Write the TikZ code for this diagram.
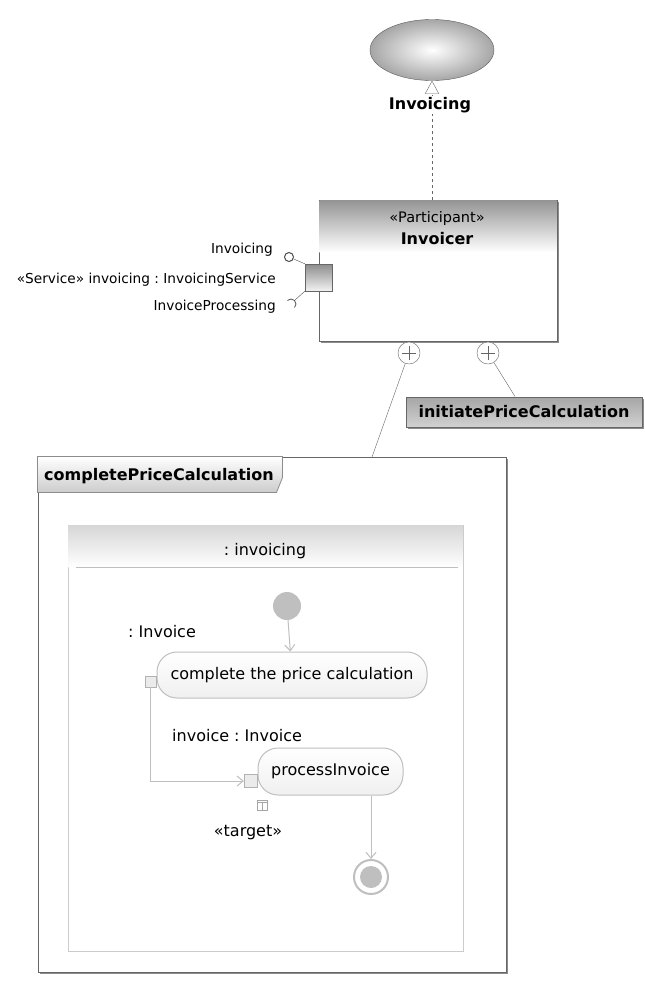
\documentclass[tikz,border=0pt]{standalone}
\usepackage{fontspec}
\setmainfont{DejaVu Sans}
\usepackage{tikz}
\usetikzlibrary{shapes.geometric,arrows.meta,shadows,positioning}

\tikzset{
  lbl/.style={font=\fontsize{13.7}{16}\selectfont, inner sep=0pt},
  ttl/.style={font=\fontsize{16}{19}\selectfont\bfseries, inner sep=0pt},
  act/.style={font=\fontsize{16}{19}\selectfont, inner sep=0pt},
  boxline/.style={draw=black!60, line width=1pt},
  boxshadow/.style={drop shadow={shadow xshift=2pt, shadow yshift=-2pt, fill=black!45, opacity=1}},
  header/.style={inner sep=0pt, anchor=north, top color=#1, bottom color=white},
  plusport/.style={circle, draw=black!60, fill=white, minimum size=22pt, inner sep=0pt,
    path picture={\draw[black!60] ([xshift=-7pt]path picture bounding box.center) -- ++(14pt,0pt);
      \draw[black!60] ([yshift=-7pt]path picture bounding box.center) -- ++(0pt,14pt);}},
  flow/.style={draw=black!25, line width=1pt, -{Straight Barb[length=6pt,width=10pt]}},
  pinbox/.style={draw=black!30, fill=black!8, inner sep=0pt},
  action/.style={draw=black!25, line width=1pt, rounded corners=20pt, top color=white,
    bottom color=black!6, inner sep=0pt, font=\fontsize{16}{19}\selectfont},
}

\begin{document}
\frenchspacing
\begin{tikzpicture}[x=1pt, y=-1pt]
  \useasboundingbox (0,0) rectangle (645,983);

  % capability and participant
  \node[ellipse, draw=black!65, inner color=white, outer color=black!35,
    minimum width=124pt, minimum height=61pt] (capab) at (432,50) {};
  \node[boxline, boxshadow, fill=white, minimum width=238pt, minimum height=141pt,
    inner sep=0pt] (invoicer) at (438,270.5) {};
  \node[header=black!42, minimum width=237pt, minimum height=52pt] (invoicerhd)
    at ([yshift=-0.5pt]invoicer.north) {};
  \draw[black!60, dash pattern=on 3pt off 3pt, -{Triangle[open,length=13pt,width=14pt]}]
    (invoicer.north -| capab) -- (capab.south);
  \node[ttl, fill=white, inner sep=1pt] (capablbl) at (430,105) {Invoicing};
  \node[font=\fontsize{14.5}{17}\selectfont, inner sep=0pt] (invoicerst) at (437,218) {«Participant»};
  \node[ttl] (invoicernm) at (437,239) {Invoicer};

  % service port
  \node[draw=black!60, minimum size=27pt, inner sep=0pt, top color=black!45,
    bottom color=black!5] (svcport) at (318.5,277.5) {};
  \node[circle, draw=black!70, line width=1pt, minimum size=9pt, inner sep=0pt] (provided) at (289,257) {};
  \draw[black!70] (svcport.north west) -- (provided);
  \coordinate (required) at (291,304);
  \draw[black!70] (svcport.south west) -- ([shift={(3.54,-3.54)}]required);
  \draw[black!70, line width=0.8pt] ([shift={(-3.54,-3.54)}]required) arc[start angle=135, end angle=-45, radius=5pt];
  \node[lbl, anchor=east] (providedlbl) at (273,250) {Invoicing};
  \node[lbl, anchor=east] (svclbl) at (276,280) {«Service» invoicing : InvoicingService};
  \node[lbl, anchor=east] (requiredlbl) at (276,307) {InvoiceProcessing};

  % operations
  \node[plusport] (opcomplete) at (409,353) {};
  \node[plusport] (opinitiate) at (488,353) {};
  \node[boxline, boxshadow, top color=black!35, bottom color=black!18, minimum width=236pt,
    minimum height=30pt, ttl] (initiate) at (524,412) {initiatePriceCalculation};
  \draw[black!60] (opinitiate) -- ([xshift=-9pt]initiate.north);

  \node[boxline, boxshadow, fill=white, minimum width=468pt, minimum height=515pt,
    inner sep=0pt] (cpc) at (272,714.5) {};
  \draw[draw=black!45, line width=0.8pt, top color=white, bottom color=black!20]
    (cpc.north west) -- ++(245,0) -- ++(0,21) -- ++(-6,15) -- ++(-239,0) -- cycle;
  \node[ttl] (cpclbl) at (159,476) {completePriceCalculation};
  \coordinate (cpcjoin) at (372,457);
  \draw[black!60] (opcomplete) -- (cpcjoin);

  % activity
  \node[draw=black!20, line width=1pt, fill=white, minimum width=395pt, minimum height=426pt,
    inner sep=0pt] (invpart) at (265.5,738) {};
  \node[header=black!16, minimum width=394pt, minimum height=42pt] (invparthd)
    at ([yshift=-0.5pt]invpart.north) {};
  \draw[black!25] ([xshift=8pt,yshift=-43pt]invpart.north west) -- ([xshift=-6pt,yshift=-43pt]invpart.north east);
  \node[act] (invpartlbl) at (265,551) {: invoicing};

  \node[circle, fill=black!25, minimum size=28pt, inner sep=0pt] (start) at (287,606) {};
  \node[action, minimum width=270pt, minimum height=46pt] (complete) at (292,675) {complete the price calculation};
  \draw[flow] (start) -- (complete);
  \node[pinbox, minimum size=11pt] (outpin) at (150.5,681.5) {};
  \node[act, anchor=west] (outpinlbl) at (128,632) {: Invoice};

  \node[action, minimum width=145pt, minimum height=47pt] (process) at (330.5,771.5) {processInvoice};
  \node[pinbox, minimum size=13pt] (inpin) at (250.5,781) {};
  \draw[flow] (outpin.south) |- (inpin.west);
  \node[act, anchor=west] (inpinlbl) at (172,736) {invoice : Invoice};

  \node[draw=black!35, minimum size=10pt, inner sep=0pt,
    path picture={\draw[black!35] ([yshift=-2.5pt]path picture bounding box.north west) -- ([yshift=-2.5pt]path picture bounding box.north east);
      \draw[black!35] ([yshift=-2.5pt]path picture bounding box.north) -- (path picture bounding box.south);}]
    (targeticon) at (262,805) {};
  \node[act] (targetlbl) at (248,833) {«target»};

  \node[circle, draw=black!25, line width=2pt, minimum size=34pt, inner sep=0pt,
    path picture={\fill[black!25] (path picture bounding box.center) circle[radius=11pt];}] (finish) at (371,877) {};
  \draw[flow] (finish |- process.south) -- (finish);
\end{tikzpicture}
\end{document}
